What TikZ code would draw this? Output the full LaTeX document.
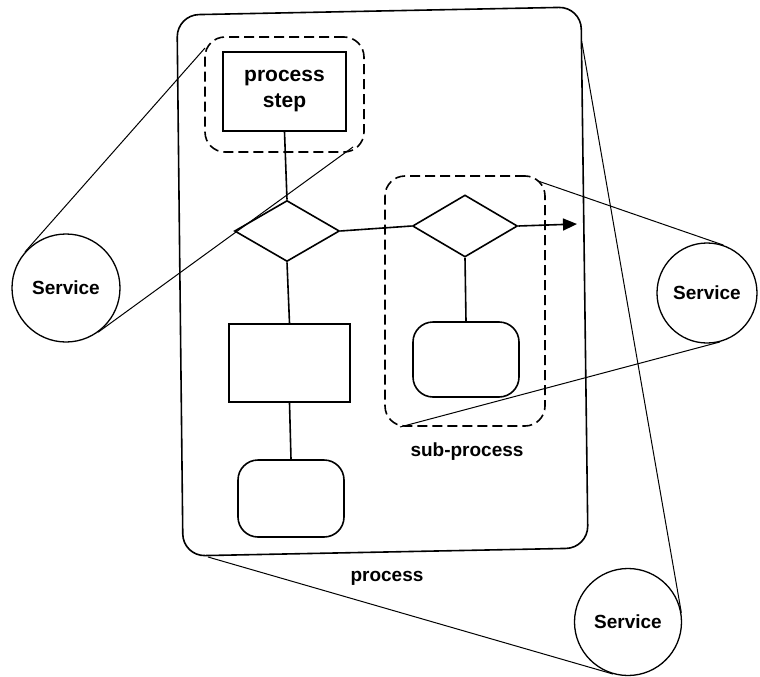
\documentclass[tikz,border=0pt]{standalone}
\usepackage{fontspec}
\setmainfont{Liberation Sans}
\usetikzlibrary{shapes.geometric,arrows.meta,calc}
\begin{document}
\begin{tikzpicture}[x=1pt,y=-1pt,
  shape line/.style={line width=1.6pt},
  zoom line/.style={line width=1pt},
  label font/.style={font=\bfseries\fontsize{19}{22}\selectfont},
  taskbox/.style={draw,shape line,inner sep=0pt},
  roundbox/.style={draw,shape line,rounded corners=20pt,inner sep=0pt},
  decision/.style={draw,shape line,diamond,inner sep=0pt,minimum width=105pt,minimum height=61pt},
  group/.style={draw,shape line,rounded corners=20pt,dash pattern=on 10pt off 5pt,inner sep=0pt},
  service/.style={draw,line width=1.3pt,circle,inner sep=0pt,label font},
]
\useasboundingbox (0,0) rectangle (760,677);

% outer process container (slightly skewed frame)
\draw[shape line,rounded corners=22pt] (177,15) -- (581,7) -- (588,548) -- (183,556) -- cycle;

% flow inside the process
\node[taskbox,minimum width=123pt,minimum height=79pt,align=center,
      font=\bfseries\fontsize{21}{26}\selectfont] (ps) at (284.5,91.5) {process\\step};
\node[decision] (d1) at (287,231) {};
\node[taskbox,minimum width=121pt,minimum height=78pt] (r1) at (289.5,363) {};
\node[roundbox,minimum width=106pt,minimum height=77pt] (e1) at (291,498.5) {};
\node[decision,minimum height=62pt] (d2) at (465,226) {};
\node[roundbox,minimum width=106pt,minimum height=75pt] (e2) at (466,359.5) {};
\coordinate (out) at (577,224);

\draw[shape line] (ps.south) -- (d1.north);
\draw[shape line] (d1.south) -- (r1.north);
\draw[shape line] (r1.south) -- (e1.north);
\draw[shape line] (d1.east) -- (d2.west);
\draw[shape line] (d2.south) -- (e2.north);
\draw[shape line,-{Triangle[length=14pt,width=12pt]}] (d2.east) -- (out);

% dashed groupings
\node[group,minimum width=159pt,minimum height=115pt] (g1) at (284.5,94.5) {};
\node[group,minimum width=160pt,minimum height=250pt] (g2) at (465,301) {};

% labels
\node[label font] (lsub) at (467,452) {sub-process};
\node[label font] (lproc) at (387,578) {process};

% services
\node[service,minimum size=108pt] (sL) at (66,288) {Service};
\node[service,minimum size=100pt] (sR) at (707,293) {Service};
\node[service,minimum size=107pt] (sB) at (628,622) {Service};

% zoom lines from the grouped parts to their services
\coordinate (g1a) at (205,48);
\coordinate (g1b) at (353,147);
\coordinate (g2a) at (538,181);
\coordinate (g2b) at (400,427);
\coordinate (pa) at (582,43);
\coordinate (pb) at (208,557);

\draw[zoom line] (g1a) -- (tangent cs:node=sL,point={(g1a)},solution=1);
\draw[zoom line] (g1b) -- (tangent cs:node=sL,point={(g1b)},solution=2);
\draw[zoom line] (g2a) -- (tangent cs:node=sR,point={(g2a)},solution=2);
\draw[zoom line] (g2b) -- (tangent cs:node=sR,point={(g2b)},solution=1);
\draw[zoom line] (pa) -- (tangent cs:node=sB,point={(pa)},solution=2);
\draw[zoom line] (pb) -- (tangent cs:node=sB,point={(pb)},solution=1);
\end{tikzpicture}
\end{document}
